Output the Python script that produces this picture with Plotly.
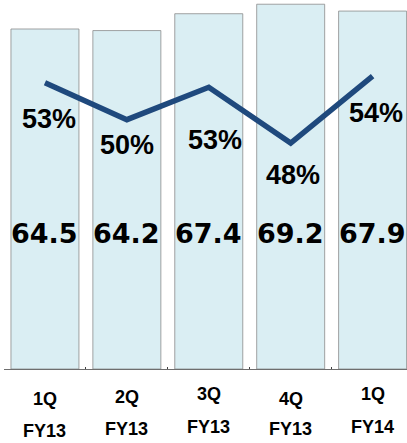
import plotly.graph_objects as go

categories = ["1Q FY13", "2Q FY13", "3Q FY13", "4Q FY13", "1Q FY14"]
quarter_labels = ["1Q", "2Q", "3Q", "4Q", "1Q"]
fy_labels = ["FY13", "FY13", "FY13", "FY13", "FY14"]
bar_values = [64.5, 64.2, 67.4, 69.2, 67.9]
line_values = [53.4, 50.1, 53.0, 48.0, 54.0]

# label placement styles (pixels)
pct_yshift = [-36, -25, -53, -32, -37]
pct_xshift = [4, 0, 6, 2, 3]
quarter_yshift = [-1, 1, 4, -1, 4]
fy_yshift = [-1, 1, 3, 1, 3]

fig = go.Figure()
fig.add_trace(go.Bar(
    x=categories, y=bar_values, width=0.83,
    marker=dict(color="#DAEEF3", line=dict(color="#8C8C8C", width=0.8)),
    hoverinfo="skip", showlegend=False,
))
fig.add_trace(go.Scatter(
    x=categories, y=line_values, yaxis="y2", mode="lines",
    line=dict(color="#1F497D", width=5.5),
    hoverinfo="skip", showlegend=False,
))

annotations = []
for i, (c, v) in enumerate(zip(categories, bar_values)):
    annotations.append(dict(
        x=c, y=25.8, xref="x", yref="y", text=f"{v:.1f}", showarrow=False,
        font=dict(family="DejaVu Sans", size=27, color="black", weight="bold"),
        xanchor="center", yanchor="middle",
    ))
for i, (c, v) in enumerate(zip(categories, line_values)):
    annotations.append(dict(
        x=c, y=v, xref="x", yref="y2", text=f"{v:.0f}%", showarrow=False,
        font=dict(family="Liberation Sans", size=27, color="black", weight="bold"),
        xanchor="center", yanchor="middle",
        yshift=pct_yshift[i], xshift=pct_xshift[i],
    ))
for i, c in enumerate(categories):
    annotations.append(dict(
        x=c, y=-0.078, xref="x", yref="paper", text=quarter_labels[i], showarrow=False,
        font=dict(family="Liberation Sans", size=18, color="black", weight="bold"),
        xanchor="center", yanchor="middle", yshift=quarter_yshift[i],
    ))
    annotations.append(dict(
        x=c, y=-0.165, xref="x", yref="paper", text=fy_labels[i], showarrow=False,
        font=dict(family="Liberation Sans", size=18, color="black", weight="bold"),
        xanchor="center", yanchor="middle", yshift=fy_yshift[i],
    ))

fig.update_layout(
    width=407, height=443,
    margin=dict(l=4, r=0, t=0, b=74),
    paper_bgcolor="white", plot_bgcolor="white",
    bargap=0.17,
    xaxis=dict(
        type="category", range=[-0.5, 4.42], showticklabels=False,
        showline=True, linecolor="#6E6E6E", linewidth=1.3,
        ticks="inside", ticklen=2, tickcolor="#404040", tickson="boundaries",
        showgrid=False, zeroline=False,
    ),
    yaxis=dict(range=[0, 70], visible=False, showgrid=False),
    yaxis2=dict(range=[27.8, 60.8], overlaying="y", visible=False, showgrid=False),
    annotations=annotations,
)

fig.write_html(
    "out.html",
    config={"displayModeBar": False},
    post_script="document.body.style.margin='0';document.body.style.overflow='hidden';",
)
